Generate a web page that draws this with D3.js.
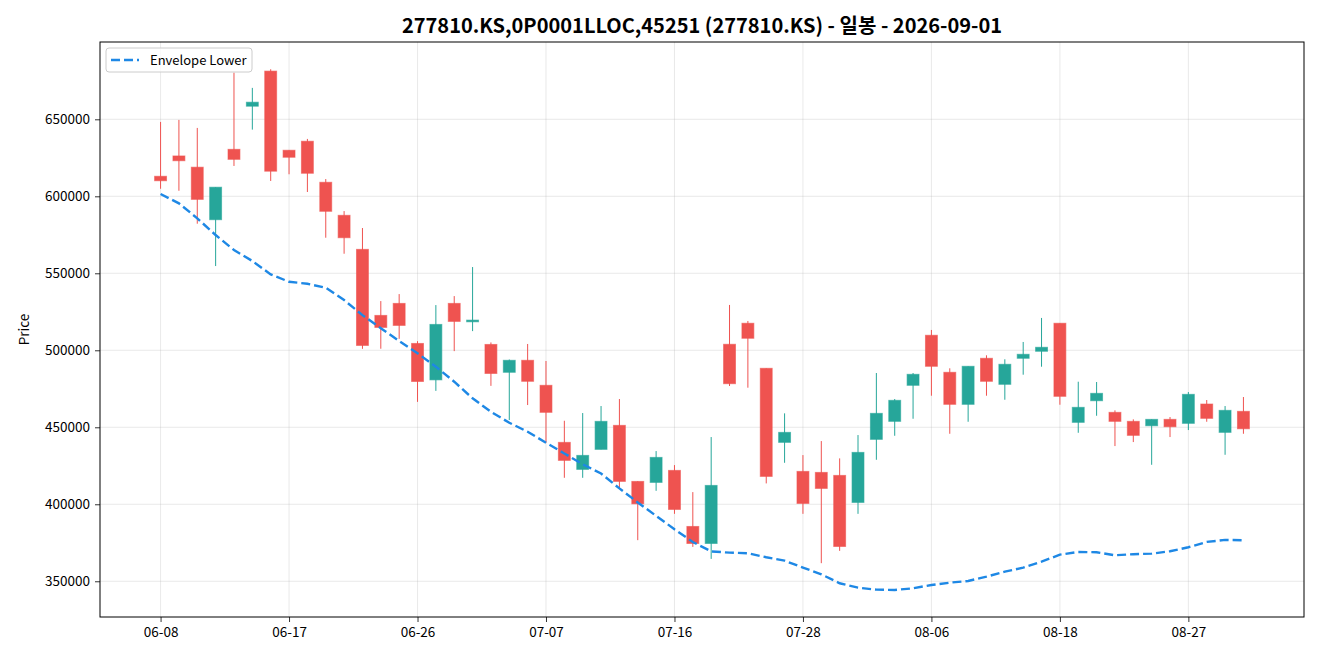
<!DOCTYPE html>
<html>
<head>
<meta charset="utf-8">
<script src="https://cdn.jsdelivr.net/npm/d3@7"></script>
<style>
  body { margin: 0; background: #fff; }
  svg text { font-family: "Noto Sans CJK KR", "Noto Sans", sans-serif; }
</style>
</head>
<body>
<div id="chart"></div>
<script>
// Daily candles 277810.KS (trading days only)
const dates = ["06-08","06-09","06-10","06-11","06-12","06-15","06-16","06-17","06-18","06-19",
  "06-22","06-23","06-24","06-25","06-26","06-29","06-30","07-01","07-02","07-03",
  "07-06","07-07","07-08","07-09","07-10","07-13","07-14","07-15","07-16","07-20",
  "07-21","07-22","07-23","07-24","07-27","07-28","07-29","07-30","07-31","08-03",
  "08-04","08-05","08-06","08-07","08-10","08-11","08-12","08-13","08-14","08-18",
  "08-19","08-20","08-21","08-24","08-25","08-26","08-27","08-28","08-31","09-01"];

const opens = [613000,626200,618900,584800,630500,658500,681300,629900,635750,609100,
  587650,565550,522650,530450,504450,480790,530450,518500,503800,485700,
  493500,477250,440200,422650,435650,451250,414850,414200,422000,385600,
  374550,503900,517550,488300,440200,421350,420700,418750,401200,442150,
  453850,477250,509750,485700,464900,494800,477900,494800,499350,517550,
  453200,467240,459700,453850,450990,455150,452550,465100,446700,460350];

const highs = [648300,649600,644400,605900,680300,670400,682500,629900,637250,611200,
  590400,579400,531950,536500,505950,529350,535200,554050,505100,494000,
  504100,493050,454240,459250,463800,468350,415000,434550,425450,407900,
  443650,529450,519050,488300,459050,431950,441050,429800,444950,485250,
  468350,485250,513200,488300,489600,496750,494150,505400,521000,517550,
  479590,479400,461000,455150,455150,456650,472900,467700,463800,469650];

const lows = [604900,603600,582200,554700,619700,643300,609950,614300,602800,573100,
  562700,500940,501000,507440,466500,473640,499450,512450,476900,454700,
  464450,439940,417190,417190,435650,410300,376700,408740,393790,372340,
  364540,476800,475700,413550,426940,393790,361750,369740,393790,428890,
  444490,455540,470490,445790,453590,470490,467890,484140,489340,464640,
  446440,457490,437800,440400,425640,443650,448200,453590,432140,445790];

const closes = [610100,623100,598000,605900,624000,661100,616300,625350,614950,590250,
  573100,503150,514850,516150,479750,516800,518750,519600,484950,493500,
  479850,459700,428500,431750,453850,414850,400290,430450,396650,374550,
  412250,478300,507800,418100,446700,400550,410300,372600,433700,459050,
  467500,484400,489600,464900,489600,479850,490900,497400,501950,470100,
  462950,472050,453850,444750,455150,450340,471400,455800,461000,449040];

const envLower = [601500,595450,585700,574850,565100,558000,549300,544500,543200,540600,
  532600,522850,514300,506050,498050,489350,479600,468800,460100,452950,
  447100,439950,433000,426000,420000,410300,401200,392500,383750,375500,
  369400,368600,368200,365600,363400,358850,354550,348700,345850,344550,
  344350,345450,347600,349100,350200,353000,356250,358850,362750,367300,
  369050,368850,366900,367550,367950,369500,372100,375550,376850,376650];

const yTicks = [350000, 400000, 450000, 500000, 550000, 600000, 650000];
const xTickIdx = [0, 7, 14, 21, 28, 35, 42, 49, 56];

const title = "277810.KS,0P0001LLOC,45251 (277810.KS) - 일봉 - 2026-09-01";
const upColor = "#26a69a", downColor = "#ef5350", envColor = "#1e88e5";

const width = 1320, height = 660;
const margin = { top: 42, right: 16, bottom: 43, left: 100 };
const innerWidth = width - margin.left - margin.right;
const innerHeight = height - margin.top - margin.bottom;

const svg = d3.select("#chart").append("svg")
  .attr("width", width)
  .attr("height", height)
  .style("display", "block");

const g = svg.append("g").attr("transform", `translate(${margin.left},${margin.top})`);

// Scales
const x = d3.scaleLinear().domain([-3.3, 62.3]).range([0, innerWidth]);
const y = d3.scaleLinear().domain([326800, 700200]).range([innerHeight, 0]);

// Grid
g.append("g").selectAll("line").data(yTicks).join("line")
  .attr("x1", 0).attr("x2", innerWidth)
  .attr("y1", d => y(d)).attr("y2", d => y(d))
  .attr("stroke", "#b0b0b0").attr("stroke-opacity", 0.35).attr("stroke-width", 0.8);
g.append("g").selectAll("line").data(xTickIdx).join("line")
  .attr("x1", d => x(d)).attr("x2", d => x(d))
  .attr("y1", 0).attr("y2", innerHeight)
  .attr("stroke", "#b0b0b0").attr("stroke-opacity", 0.35).attr("stroke-width", 0.8);

// Candles
g.append("clipPath").attr("id", "plot-clip")
  .append("rect").attr("width", innerWidth).attr("height", innerHeight);
const plot = g.append("g").attr("clip-path", "url(#plot-clip)");

const bodyW = x(0.65) - x(0);
const idx = d3.range(dates.length);
const colorOf = i => closes[i] >= opens[i] ? upColor : downColor;

plot.append("g").selectAll("line").data(idx).join("line")
  .attr("x1", i => x(i)).attr("x2", i => x(i))
  .attr("y1", i => y(highs[i])).attr("y2", i => y(lows[i]))
  .attr("stroke", colorOf).attr("stroke-width", 1);

plot.append("g").selectAll("rect").data(idx).join("rect")
  .attr("x", i => x(i) - bodyW / 2)
  .attr("width", bodyW)
  .attr("y", i => y(Math.max(opens[i], closes[i])))
  .attr("height", i => Math.max(1, Math.abs(y(opens[i]) - y(closes[i]))))
  .attr("fill", colorOf)
  .attr("stroke", colorOf).attr("stroke-opacity", 0.6).attr("stroke-width", 1);

// Envelope lower line
const lineGen = d3.line().x((d, i) => x(i)).y(d => y(d));
plot.append("path")
  .datum(envLower)
  .attr("fill", "none")
  .attr("stroke", envColor)
  .attr("stroke-width", 2.4)
  .attr("stroke-dasharray", "9,4")
  .attr("d", lineGen);

// Axes
const yAxis = g.append("g")
  .call(d3.axisLeft(y).tickValues(yTicks).tickFormat(d3.format("d")).tickSize(5).tickPadding(5));
const xAxis = g.append("g")
  .attr("transform", `translate(0,${innerHeight})`)
  .call(d3.axisBottom(x).tickValues(xTickIdx).tickFormat(i => dates[i]).tickSize(5).tickPadding(5));
[xAxis, yAxis].forEach(a => {
  a.select(".domain").remove();
  a.selectAll(".tick line").attr("stroke", "#000").attr("stroke-width", 0.8);
  a.selectAll(".tick text").style("font-size", "13.5px").attr("fill", "#000");
});

// Frame
g.append("rect")
  .attr("width", innerWidth).attr("height", innerHeight)
  .attr("fill", "none").attr("stroke", "#000").attr("stroke-width", 1);

// Labels
svg.append("text")
  .attr("x", margin.left + innerWidth / 2)
  .attr("y", 33)
  .attr("text-anchor", "middle")
  .style("font-size", "20px")
  .style("font-weight", "bold")
  .text(title);

svg.append("text")
  .attr("transform", `translate(29,${margin.top + innerHeight / 2}) rotate(-90)`)
  .attr("text-anchor", "middle")
  .style("font-size", "13.5px")
  .text("Price");

// Legend
const legend = g.append("g").attr("transform", "translate(6,6)");
legend.append("rect")
  .attr("width", 146).attr("height", 24).attr("rx", 3)
  .attr("fill", "#fff").attr("fill-opacity", 0.8)
  .attr("stroke", "#cccccc").attr("stroke-width", 1);
legend.append("line")
  .attr("x1", 5).attr("x2", 33).attr("y1", 12).attr("y2", 12)
  .attr("stroke", envColor).attr("stroke-width", 2.4).attr("stroke-dasharray", "9,4");
legend.append("text")
  .attr("x", 44).attr("y", 16.5)
  .style("font-size", "13px")
  .text("Envelope Lower");
</script>
</body>
</html>
